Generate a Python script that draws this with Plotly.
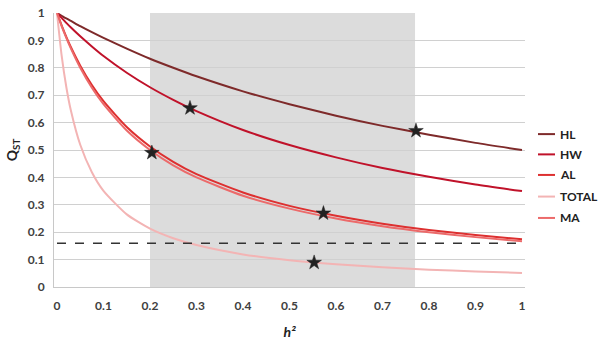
import plotly.graph_objects as go

h2 = [0, 0.01, 0.02, 0.03, 0.05, 0.075, 0.1, 0.15, 0.2, 0.25, 0.3, 0.4, 0.5, 0.6, 0.7, 0.8, 0.9, 1.0]
HL = [1, 0.990, 0.980, 0.971, 0.952, 0.930, 0.909, 0.870, 0.833, 0.800, 0.769, 0.714, 0.667, 0.625, 0.588, 0.556, 0.526, 0.500]
HW = [1, 0.982, 0.964, 0.947, 0.915, 0.878, 0.843, 0.782, 0.729, 0.683, 0.642, 0.573, 0.518, 0.473, 0.434, 0.402, 0.374, 0.350]
AL = [1, 0.955, 0.913, 0.875, 0.808, 0.737, 0.678, 0.584, 0.513, 0.457, 0.412, 0.345, 0.296, 0.260, 0.231, 0.208, 0.190, 0.174]
TOTAL = [1, 0.844, 0.730, 0.643, 0.519, 0.419, 0.351, 0.265, 0.213, 0.178, 0.153, 0.119, 0.098, 0.083, 0.072, 0.063, 0.057, 0.051]
MA = [1, 0.952, 0.909, 0.870, 0.800, 0.727, 0.667, 0.571, 0.500, 0.444, 0.400, 0.333, 0.286, 0.250, 0.222, 0.200, 0.182, 0.167]

star_x = [0.772, 0.286, 0.204, 0.573, 0.553]
star_y = [0.570, 0.653, 0.490, 0.269, 0.089]

threshold = 0.16
shade_range = [0.2, 0.77]

series_names = ["HL", "HW", "AL", "TOTAL", "MA"]
series_values = [HL, HW, AL, TOTAL, MA]
series_colors = ["#7E2A2A", "#C0122A", "#DD3030", "#F3B4B4", "#EC6A6A"]

FONT = "Lato, Open Sans, Arial"

fig = go.Figure()
for name, ys, col in zip(series_names, series_values, series_colors):
    fig.add_trace(go.Scatter(x=h2, y=ys, name=name, mode="lines", showlegend=False,
                             line=dict(color=col, width=2, shape="spline", smoothing=0.6)))

fig.add_trace(go.Scatter(x=[0, 1], y=[threshold, threshold], mode="lines",
                         line=dict(color="#333333", width=1.5, dash="dash"),
                         showlegend=False, hoverinfo="skip"))
fig.add_trace(go.Scatter(x=star_x, y=star_y, mode="markers",
                         marker=dict(symbol="star", size=11, color="#222222",
                                     line=dict(color="#222222", width=0.5)),
                         showlegend=False))

fig.add_shape(type="rect", xref="x", yref="y", x0=shade_range[0], x1=shade_range[1],
              y0=0, y1=1, fillcolor="#DCDCDC", line=dict(width=0), layer="below")

# custom legend (short line swatches + bold labels), positioned in paper coords
leg_y = [0.558, 0.484, 0.409, 0.330, 0.252]
for name, col, yy in zip(series_names, series_colors, leg_y):
    fig.add_shape(type="line", xref="paper", yref="paper", x0=1.0276, x1=1.0637,
                  y0=yy, y1=yy, line=dict(color=col, width=2))
    fig.add_annotation(xref="paper", yref="paper", x=1.071, y=yy, text="<b>%s</b>" % name,
                       showarrow=False, xanchor="left", yanchor="middle",
                       font=dict(size=12, color="#222222", family=FONT))

tickfont = dict(size=12, color="#404040", family=FONT, weight="bold")

fig.update_layout(
    width=600, height=357,
    margin=dict(l=54, r=75, t=13, b=70, autoexpand=False),
    plot_bgcolor="white", paper_bgcolor="white",
    font=dict(family=FONT, size=12, color="#404040"),
    showlegend=False,
    xaxis=dict(range=[-0.00645, 1.00645], tickvals=[0, 0.1, 0.2, 0.3, 0.4, 0.5, 0.6, 0.7, 0.8, 0.9, 1],
               ticktext=["0", "0.1", "0.2", "0.3", "0.4", "0.5", "0.6", "0.7", "0.8", "0.9", "1"],
               showgrid=False, zeroline=False, showline=True, linecolor="#C8C8C8", linewidth=1,
               ticks="", tickfont=tickfont, automargin=False, ticklabeloverflow="allow",
               ticklabelstandoff=8,
               title=dict(text="<b><i>h²</i></b>", font=dict(size=14, color="#222222"), standoff=14)),
    yaxis=dict(range=[0, 1], dtick=0.1, tickformat="~g", automargin=False,
               showgrid=True, gridcolor="#D0D0D0", gridwidth=1, zeroline=False,
               showline=True, linecolor="#C8C8C8", linewidth=1, ticks="",
               tickfont=tickfont, ticklabelstandoff=6, ticklabeloverflow="allow",
               title=dict(text="<b>Q<sub>ST</sub></b>", font=dict(size=14, color="#222222"), standoff=6)),
)

fig.write_html("out.html", config={"displayModeBar": False},
               post_script="document.body.style.margin='0px';")
